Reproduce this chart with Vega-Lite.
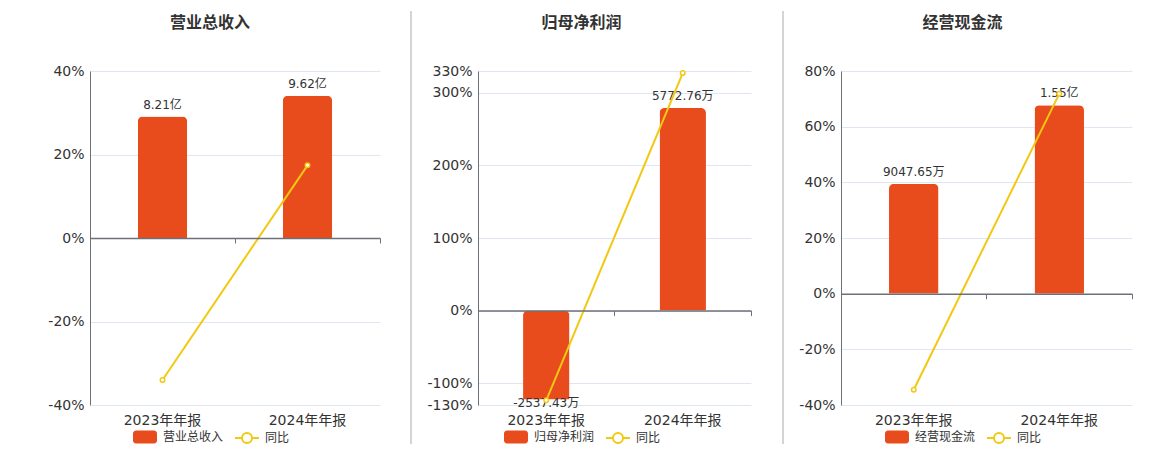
{
  "$schema": "https://vega.github.io/schema/vega-lite/v6.json",
  "background": "white",
  "padding": {"left": 0, "top": 10, "right": 0, "bottom": 0},
  "spacing": 0,
  "config": {
    "font": "DejaVu Sans, Noto Sans CJK SC",
    "view": {"stroke": null},
    "legend": {"padding": 0}
  },
  "resolve": {
    "scale": {"fill": "independent", "stroke": "independent"},
    "legend": {"fill": "independent", "stroke": "independent"}
  },
  "datasets": {
    "p1": [
      {"period": "2023年年报", "value": 82100, "label": "8.21亿", "yoy": -34.0},
      {"period": "2024年年报", "value": 96200, "label": "9.62亿", "yoy": 17.4}
    ],
    "p2": [
      {"period": "2023年年报", "value": -2537.43, "label": "-2537.43万", "yoy": -123.6},
      {"period": "2024年年报", "value": 5772.76, "label": "5772.76万", "yoy": 327.2}
    ],
    "p3": [
      {"period": "2023年年报", "value": 9047.65, "label": "9047.65万", "yoy": -34.5},
      {"period": "2024年年报", "value": 15500, "label": "1.55亿", "yoy": 71.8}
    ],
    "sep": [
      {"top": 394, "bottom": -39}
    ]
  },
  "hconcat": [
    {
      "width": 290,
      "height": 334,
      "title": {"text": "营业总收入", "fontSize": 16, "fontWeight": "bold", "color": "#333", "dx": -25, "offset": 33},
      "data": {"name": "p1"},
      "layer": [
        {
          "layer": [
            {
              "mark": {"type": "bar", "width": {"band": 0.34}, "cornerRadiusEnd": 5},
              "encoding": {
                "x": {"field": "period", "type": "nominal", "scale": {"padding": 0},
                  "axis": {"orient": "bottom", "offset": -167, "labels": false, "domain": true, "domainColor": "#6E7079", "domainWidth": 1.5, "ticks": true, "tickColor": "#6E7079", "tickSize": 5, "bandPosition": 1, "tickExtra": true, "grid": false, "title": null, "zindex": 1}},
                "y": {"field": "value", "type": "quantitative", "scale": {"domain": [-112900, 112900], "nice": false}, "axis": null},
                "fill": {"datum": "营业总收入", "scale": {"range": ["#E84C1D"]},
                  "legend": {"orient": "none", "legendX": 43, "legendY": 354, "title": null, "labelFontSize": 12, "labelColor": "#333", "labelOffset": 6, "symbolSize": 576, "symbolStrokeWidth": 0,
                    "symbolType": "M-0.75,-0.55H0.75A0.25,0.25 0 0 1 1,-0.3V0.3A0.25,0.25 0 0 1 0.75,0.55H-0.75A0.25,0.25 0 0 1 -1,0.3V-0.3A0.25,0.25 0 0 1 -0.75,-0.55Z"}}
              }
            },
            {
              "mark": {"type": "text", "baseline": "bottom", "dy": -5, "fontSize": 12, "color": "#333"},
              "encoding": {
                "x": {"field": "period", "type": "nominal"},
                "y": {"field": "value", "type": "quantitative", "scale": {"domain": [-112900, 112900], "nice": false}, "axis": null},
                "text": {"field": "label"}
              }
            }
          ]
        },
        {
          "layer": [
            {
              "mark": {"type": "line", "strokeWidth": 2},
              "encoding": {
                "x": {"field": "period", "type": "nominal",
                  "axis": {"orient": "bottom", "domain": false, "ticks": false, "labelFontSize": 14, "labelColor": "#333", "labelPadding": 8, "labelAngle": 0, "title": null, "grid": false}},
                "y": {"field": "yoy", "type": "quantitative", "scale": {"domain": [-40, 40], "nice": false},
                  "axis": {"orient": "left", "values": [-40, -20, 0, 20, 40], "labelExpr": "datum.value + '%'", "domain": true, "domainColor": "#6E7079", "ticks": false, "grid": true, "gridColor": "#E0E6F1", "labelFontSize": 14, "labelColor": "#333", "labelPadding": 6, "title": null, "minExtent": 90, "maxExtent": 90}},
                "stroke": {"datum": "同比", "scale": {"range": ["#F2C811"]},
                  "legend": {"orient": "none", "legendX": 144, "legendY": 354, "title": null, "labelFontSize": 12, "labelColor": "#333", "labelOffset": 5, "symbolSize": 576, "symbolStrokeWidth": 2,
                    "symbolType": "M-1,0H-0.42M0.42,0H1M0.42,0A0.42,0.42 0 1 1 -0.42,0A0.42,0.42 0 1 1 0.42,0Z",
                    "encode": {"symbols": {"update": {"fill": {"value": "white"}}}}}}
              }
            },
            {
              "mark": {"type": "point", "shape": "circle", "size": 20, "fill": "white", "filled": false, "strokeWidth": 1.5, "opacity": 1},
              "encoding": {
                "x": {"field": "period", "type": "nominal"},
                "y": {"field": "yoy", "type": "quantitative", "scale": {"domain": [-40, 40], "nice": false}},
                "stroke": {"datum": "同比"}
              }
            }
          ]
        }
      ],
      "resolve": {"scale": {"y": "independent"}, "axis": {"x": "independent"}}
    },
    {
      "width": 30,
      "height": 334,
      "data": {"name": "sep"},
      "mark": {"type": "rule", "color": "#AAAAAA", "strokeWidth": 1, "clip": false},
      "encoding": {
        "x": {"datum": 1, "type": "quantitative", "scale": {"domain": [0, 1]}, "axis": null},
        "y": {"field": "bottom", "type": "quantitative", "scale": {"domain": [0, 334], "nice": false, "zero": false}, "axis": null},
        "y2": {"field": "top"}
      }
    },
    {
      "width": 273,
      "height": 334,
      "title": {"text": "归母净利润", "fontSize": 16, "fontWeight": "bold", "color": "#333", "dx": -33, "offset": 33},
      "data": {"name": "p2"},
      "layer": [
        {
          "layer": [
            {
              "mark": {"type": "bar", "width": {"band": 0.34}, "cornerRadiusEnd": 5},
              "encoding": {
                "x": {"field": "period", "type": "nominal", "scale": {"padding": 0},
                  "axis": {"orient": "bottom", "offset": -94.4, "labels": false, "domain": true, "domainColor": "#6E7079", "domainWidth": 1.5, "ticks": true, "tickColor": "#6E7079", "tickSize": 5, "bandPosition": 1, "tickExtra": true, "grid": false, "title": null, "zindex": 1}},
                "y": {"field": "value", "type": "quantitative", "scale": {"domain": [-2691, 6831], "nice": false}, "axis": null},
                "fill": {"datum": "归母净利润", "scale": {"range": ["#E84C1D"]},
                  "legend": {"orient": "none", "legendX": 26, "legendY": 354, "title": null, "labelFontSize": 12, "labelColor": "#333", "labelOffset": 6, "symbolSize": 576, "symbolStrokeWidth": 0,
                    "symbolType": "M-0.75,-0.55H0.75A0.25,0.25 0 0 1 1,-0.3V0.3A0.25,0.25 0 0 1 0.75,0.55H-0.75A0.25,0.25 0 0 1 -1,0.3V-0.3A0.25,0.25 0 0 1 -0.75,-0.55Z"}}
              }
            },
            {
              "transform": [{"filter": "datum.value >= 0"}],
              "mark": {"type": "text", "baseline": "bottom", "dy": -5, "fontSize": 12, "color": "#333"},
              "encoding": {
                "x": {"field": "period", "type": "nominal"},
                "y": {"field": "value", "type": "quantitative", "scale": {"domain": [-2691, 6831], "nice": false}, "axis": null},
                "text": {"field": "label"}
              }
            },
            {
              "transform": [{"filter": "datum.value < 0"}],
              "mark": {"type": "text", "baseline": "top", "dy": -2, "fontSize": 12, "color": "#333"},
              "encoding": {
                "x": {"field": "period", "type": "nominal"},
                "y": {"field": "value", "type": "quantitative", "scale": {"domain": [-2691, 6831], "nice": false}, "axis": null},
                "text": {"field": "label"}
              }
            }
          ]
        },
        {
          "layer": [
            {
              "mark": {"type": "line", "strokeWidth": 2},
              "encoding": {
                "x": {"field": "period", "type": "nominal",
                  "axis": {"orient": "bottom", "domain": false, "ticks": false, "labelFontSize": 14, "labelColor": "#333", "labelPadding": 8, "labelAngle": 0, "title": null, "grid": false}},
                "y": {"field": "yoy", "type": "quantitative", "scale": {"domain": [-130, 330], "nice": false},
                  "axis": {"orient": "left", "values": [-130, -100, 0, 100, 200, 300, 330], "labelExpr": "datum.value + '%'", "domain": true, "domainColor": "#6E7079", "ticks": false, "grid": true, "gridColor": "#E0E6F1", "labelFontSize": 14, "labelColor": "#333", "labelPadding": 6, "title": null, "minExtent": 66, "maxExtent": 66}},
                "stroke": {"datum": "同比", "scale": {"range": ["#F2C811"]},
                  "legend": {"orient": "none", "legendX": 127, "legendY": 354, "title": null, "labelFontSize": 12, "labelColor": "#333", "labelOffset": 5, "symbolSize": 576, "symbolStrokeWidth": 2,
                    "symbolType": "M-1,0H-0.42M0.42,0H1M0.42,0A0.42,0.42 0 1 1 -0.42,0A0.42,0.42 0 1 1 0.42,0Z",
                    "encode": {"symbols": {"update": {"fill": {"value": "white"}}}}}}
              }
            },
            {
              "mark": {"type": "point", "shape": "circle", "size": 20, "fill": "white", "filled": false, "strokeWidth": 1.5, "opacity": 1},
              "encoding": {
                "x": {"field": "period", "type": "nominal"},
                "y": {"field": "yoy", "type": "quantitative", "scale": {"domain": [-130, 330], "nice": false}},
                "stroke": {"datum": "同比"}
              }
            }
          ]
        }
      ],
      "resolve": {"scale": {"y": "independent"}, "axis": {"x": "independent"}}
    },
    {
      "width": 31,
      "height": 334,
      "data": {"name": "sep"},
      "mark": {"type": "rule", "color": "#AAAAAA", "strokeWidth": 1, "clip": false},
      "encoding": {
        "x": {"datum": 1, "type": "quantitative", "scale": {"domain": [0, 1]}, "axis": null},
        "y": {"field": "bottom", "type": "quantitative", "scale": {"domain": [0, 334], "nice": false, "zero": false}, "axis": null},
        "y2": {"field": "top"}
      }
    },
    {
      "width": 291,
      "height": 334,
      "title": {"text": "经营现金流", "fontSize": 16, "fontWeight": "bold", "color": "#333", "dx": -24, "offset": 33},
      "data": {"name": "p3"},
      "layer": [
        {
          "layer": [
            {
              "mark": {"type": "bar", "width": {"band": 0.34}, "cornerRadiusEnd": 5},
              "encoding": {
                "x": {"field": "period", "type": "nominal", "scale": {"padding": 0},
                  "axis": {"orient": "bottom", "offset": -111.3, "labels": false, "domain": true, "domainColor": "#6E7079", "domainWidth": 1.5, "ticks": true, "tickColor": "#6E7079", "tickSize": 5, "bandPosition": 1, "tickExtra": true, "grid": false, "title": null, "zindex": 1}},
                "y": {"field": "value", "type": "quantitative", "scale": {"domain": [-9160, 18320], "nice": false}, "axis": null},
                "fill": {"datum": "经营现金流", "scale": {"range": ["#E84C1D"]},
                  "legend": {"orient": "none", "legendX": 44, "legendY": 354, "title": null, "labelFontSize": 12, "labelColor": "#333", "labelOffset": 6, "symbolSize": 576, "symbolStrokeWidth": 0,
                    "symbolType": "M-0.75,-0.55H0.75A0.25,0.25 0 0 1 1,-0.3V0.3A0.25,0.25 0 0 1 0.75,0.55H-0.75A0.25,0.25 0 0 1 -1,0.3V-0.3A0.25,0.25 0 0 1 -0.75,-0.55Z"}}
              }
            },
            {
              "mark": {"type": "text", "baseline": "bottom", "dy": -5, "fontSize": 12, "color": "#333"},
              "encoding": {
                "x": {"field": "period", "type": "nominal"},
                "y": {"field": "value", "type": "quantitative", "scale": {"domain": [-9160, 18320], "nice": false}, "axis": null},
                "text": {"field": "label"}
              }
            }
          ]
        },
        {
          "layer": [
            {
              "mark": {"type": "line", "strokeWidth": 2},
              "encoding": {
                "x": {"field": "period", "type": "nominal",
                  "axis": {"orient": "bottom", "domain": false, "ticks": false, "labelFontSize": 14, "labelColor": "#333", "labelPadding": 8, "labelAngle": 0, "title": null, "grid": false}},
                "y": {"field": "yoy", "type": "quantitative", "scale": {"domain": [-40, 80], "nice": false},
                  "axis": {"orient": "left", "values": [-40, -20, 0, 20, 40, 60, 80], "labelExpr": "datum.value + '%'", "domain": true, "domainColor": "#6E7079", "ticks": false, "grid": true, "gridColor": "#E0E6F1", "labelFontSize": 14, "labelColor": "#333", "labelPadding": 6, "title": null, "minExtent": 57, "maxExtent": 57}},
                "stroke": {"datum": "同比", "scale": {"range": ["#F2C811"]},
                  "legend": {"orient": "none", "legendX": 145, "legendY": 354, "title": null, "labelFontSize": 12, "labelColor": "#333", "labelOffset": 5, "symbolSize": 576, "symbolStrokeWidth": 2,
                    "symbolType": "M-1,0H-0.42M0.42,0H1M0.42,0A0.42,0.42 0 1 1 -0.42,0A0.42,0.42 0 1 1 0.42,0Z",
                    "encode": {"symbols": {"update": {"fill": {"value": "white"}}}}}}
              }
            },
            {
              "mark": {"type": "point", "shape": "circle", "size": 20, "fill": "white", "filled": false, "strokeWidth": 1.5, "opacity": 1},
              "encoding": {
                "x": {"field": "period", "type": "nominal"},
                "y": {"field": "yoy", "type": "quantitative", "scale": {"domain": [-40, 80], "nice": false}},
                "stroke": {"datum": "同比"}
              }
            }
          ]
        }
      ],
      "resolve": {"scale": {"y": "independent"}, "axis": {"x": "independent"}}
    }
  ]
}
